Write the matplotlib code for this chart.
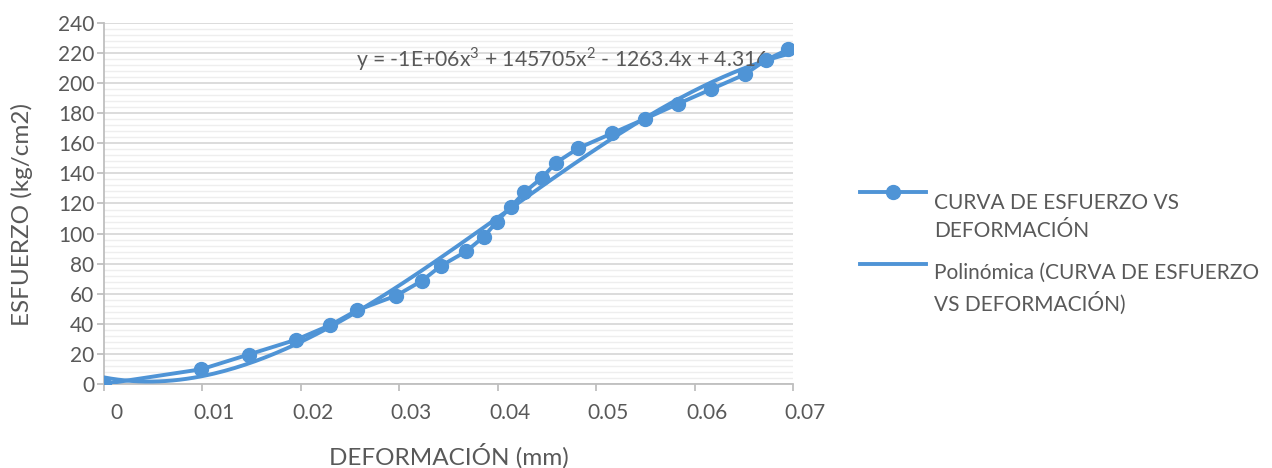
import numpy as np
import matplotlib
matplotlib.use("Agg")
import matplotlib.pyplot as plt
import matplotlib.transforms as mtransforms
from matplotlib.ticker import MultipleLocator
from matplotlib.legend_handler import HandlerLine2D

# datos
deformacion = [0.0, 0.0099, 0.0147, 0.0195, 0.0230, 0.0257, 0.0297, 0.0323,
               0.0342, 0.0368, 0.0386, 0.0399, 0.0413, 0.0427, 0.0445, 0.0459,
               0.0482, 0.0516, 0.0550, 0.0583, 0.0617, 0.0651, 0.0673, 0.0695]
esfuerzo = [0.0, 9.8, 19.6, 29.4, 39.2, 49.0, 58.8, 68.6,
            78.4, 88.2, 98.0, 107.8, 117.6, 127.4, 137.2, 147.0,
            156.8, 166.6, 176.4, 186.2, 196.0, 205.8, 215.6, 222.4]

ecuacion = r"y = -1E+06x$^\mathregular{3}$ + 145705x$^\mathregular{2}$ - 1263.4x + 4.316"
serie = "CURVA DE ESFUERZO VS\nDEFORMACIÓN"
tendencia = "Polinómica (CURVA DE ESFUERZO\nVS DEFORMACIÓN)"

azul = "#4F94D6"
gris = "#595959"

plt.rcParams['font.family'] = ['Lato', 'DejaVu Sans']
plt.rcParams['mathtext.fontset'] = 'custom'
plt.rcParams['mathtext.rm'] = 'Lato'


# la clave de la leyenda va a la altura de la primera linea (como Excel)
class HandlerArriba(HandlerLine2D):
    def create_artists(self, legend, orig_handle, xdescent, ydescent,
                       width, height, fontsize, trans):
        return super().create_artists(legend, orig_handle, xdescent,
                                      ydescent - 2 * 18.5, width, height,
                                      fontsize, trans)


fig = plt.figure(figsize=(12.72, 4.68), dpi=100)
ax = fig.add_axes([104/1272, 1 - 384/468, (793-104)/1272, (384-23)/468])

# linea de tendencia polinomica (orden 3)
coef = np.polyfit(deformacion, esfuerzo, 3)
xt = np.linspace(0, max(deformacion), 200)
ax.plot(xt, np.polyval(coef, xt), color=azul, lw=2.8, label=tendencia, zorder=3)
ax.plot(deformacion, esfuerzo, color=azul, lw=2.8, marker='o', ms=10,
        label=serie, zorder=4)

ax.set_xlim(0, 0.07)
ax.set_ylim(0, 240)
ax.yaxis.set_major_locator(MultipleLocator(20))
ax.yaxis.set_minor_locator(MultipleLocator(4))
ax.set_xticks(np.arange(0, 0.0701, 0.01))
ax.set_xticklabels(["0", "0.01", "0.02", "0.03", "0.04", "0.05", "0.06", "0.07"])

ax.grid(which='major', axis='y', color='#D9D9D9', lw=1.3)
ax.grid(which='minor', axis='y', color='#EEEEEE', lw=1.0)
ax.set_axisbelow(True)

for s in ['top', 'right']:
    ax.spines[s].set_visible(False)
for s in ['left', 'bottom']:
    ax.spines[s].set_color('#BFBFBF')
    ax.spines[s].set_linewidth(1.3)

ax.tick_params(axis='both', which='major', colors='#BFBFBF', labelcolor=gris,
               labelsize=15, length=5, width=1.3)
ax.tick_params(axis='y', which='minor', length=0)
ax.tick_params(axis='x', pad=9)
ax.tick_params(axis='y', pad=2)

# las etiquetas del eje x aparecen algo desplazadas a la derecha
offset = mtransforms.ScaledTranslation(12/100, 0, fig.dpi_scale_trans)
for lbl in ax.get_xticklabels():
    lbl.set_transform(lbl.get_transform() + offset)

ax.set_xlabel("DEFORMACIÓN (mm)", fontsize=17.5, color=gris)
ax.xaxis.set_label_coords(0.5, -0.165)
ax.set_ylabel("ESFUERZO (kg/cm2)", fontsize=17.5, color=gris)
ax.yaxis.set_label_coords(-0.103, 0.47)

ax.text(0.0256, 216, ecuacion, fontsize=15.2, color=gris, va='center')

handles, labels = ax.get_legend_handles_labels()
leg = fig.legend(handles[::-1], labels[::-1], loc='center left',
                 bbox_to_anchor=(841/1272, 1 - 254/468), frameon=False,
                 fontsize=15, handlelength=3.2, labelspacing=1.05,
                 handletextpad=0.35, labelcolor=gris,
                 handler_map={h: HandlerArriba() for h in handles})
for t in leg.get_texts():
    t.set_linespacing(1.5)

fig.savefig("out.png", dpi=100)
